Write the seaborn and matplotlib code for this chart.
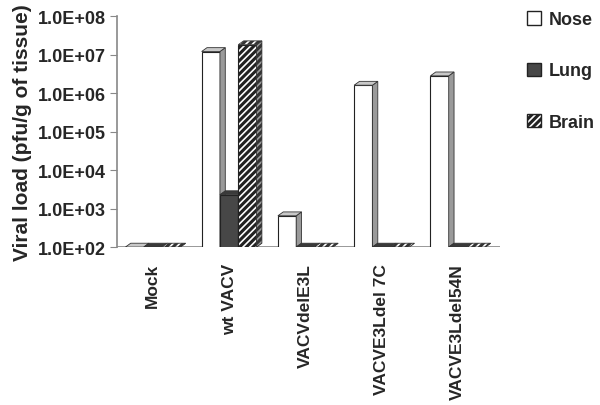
import pandas as pd
import matplotlib
matplotlib.use("Agg")
import matplotlib.pyplot as plt
import seaborn as sns
from matplotlib.patches import Polygon, Patch
from matplotlib.ticker import LogLocator, FuncFormatter, NullLocator

viruses = ["Mock", "wt VACV", "VACVdelE3L", "VACVE3Ldel 7C", "VACVE3Ldel54N"]
tissues = ["Nose", "Lung", "Brain"]
nose = [100, 1.2e7, 650, 1.6e6, 2.8e6]
lung = [100, 2.3e3, 100, 100, 100]
brain = [100, 1.8e7, 100, 100, 100]

df = pd.DataFrame({
    "Virus": viruses * 3,
    "Tissue": ["Nose"] * 5 + ["Lung"] * 5 + ["Brain"] * 5,
    "Load": nose + lung + brain,
})

sns.set_style("white")
plt.rcParams["font.family"] = ["Liberation Sans", "DejaVu Sans"]
plt.rcParams["font.weight"] = "bold"
plt.rcParams["hatch.linewidth"] = 2.2

face = {"Nose": "white", "Lung": "#474747", "Brain": "white"}
side = {"Nose": "#9a9a9a", "Lung": "#2e2e2e", "Brain": "#9a9a9a"}
top = {"Nose": "#c8c8c8", "Lung": "#3a3a3a", "Brain": "white"}
hatch = {"Nose": None, "Lung": None, "Brain": "/////"}

fig = plt.figure(figsize=(6.0, 4.06), dpi=100)
ax = fig.add_axes([0.195, 0.389, 0.638, 0.569])
ax.set_yscale("log")
sns.barplot(data=df, x="Virus", y="Load", hue="Tissue", hue_order=tissues,
            palette=face, width=0.72, saturation=1, legend=False,
            edgecolor="#222222", linewidth=0.8, ax=ax, errorbar=None)

# fake 3D: side and top faces, drawn left to right so the next bar covers them
base = 1e2
dx = 0.07
fy = 10 ** 0.1
bars = []
for cont, t in zip(ax.containers, tissues):
    for bar in cont:
        bars.append((bar.get_x(), bar, t))
bars.sort(key=lambda b: b[0])

z = 3
for x0, bar, t in bars:
    if hatch[t]:
        bar.set_hatch(hatch[t])
    bar.set_zorder(z)
    x1 = x0 + bar.get_width()
    y1 = max(bar.get_y() + bar.get_height(), base)
    s = Polygon([(x1, base), (x1 + dx, base * fy), (x1 + dx, y1 * fy), (x1, y1)],
                closed=True, facecolor=side[t], edgecolor="#333333",
                linewidth=0.6, hatch=hatch[t], zorder=z + 1)
    tp = Polygon([(x0, y1), (x0 + dx, y1 * fy), (x1 + dx, y1 * fy), (x1, y1)],
                 closed=True, facecolor=top[t], edgecolor="#333333",
                 linewidth=0.6, hatch=hatch[t], zorder=z + 1)
    ax.add_patch(s)
    ax.add_patch(tp)
    z += 2

ax.axhline(base, color="#888888", linewidth=1.2, zorder=1)
ax.set_xlim(-0.47, 4.55)
ax.set_ylim(1e2, 1e8)
ax.yaxis.set_major_locator(LogLocator(base=10, numticks=10))
ax.yaxis.set_minor_locator(NullLocator())
ax.yaxis.set_major_formatter(FuncFormatter(lambda v, p: f"{v:.1E}"))
for sp in ["top", "right", "bottom"]:
    ax.spines[sp].set_visible(False)
ax.spines["left"].set_color("#888888")
ax.spines["left"].set_linewidth(1.2)
ax.tick_params(axis="y", left=True, direction="out", length=5, color="#888888",
               labelsize=13, pad=3)
ax.tick_params(axis="x", bottom=False, labelsize=12.5, pad=8)
plt.setp(ax.get_xticklabels(), rotation=90, fontweight="bold")
plt.setp(ax.get_yticklabels(), fontweight="bold")
ax.set_xlabel("")
ax.set_ylabel("Viral load (pfu/g of tissue)", fontsize=15, fontweight="bold", labelpad=4)

handles = [Patch(facecolor=face[t], edgecolor="#222222", hatch=hatch[t], label=t) for t in tissues]
fig.legend(handles=handles, loc="upper left", bbox_to_anchor=(0.852, 1.01), frameon=False,
           fontsize=13, labelspacing=1.9, handlelength=0.75, handleheight=0.75,
           handletextpad=0.45)

fig.savefig("out.png", dpi=100)
